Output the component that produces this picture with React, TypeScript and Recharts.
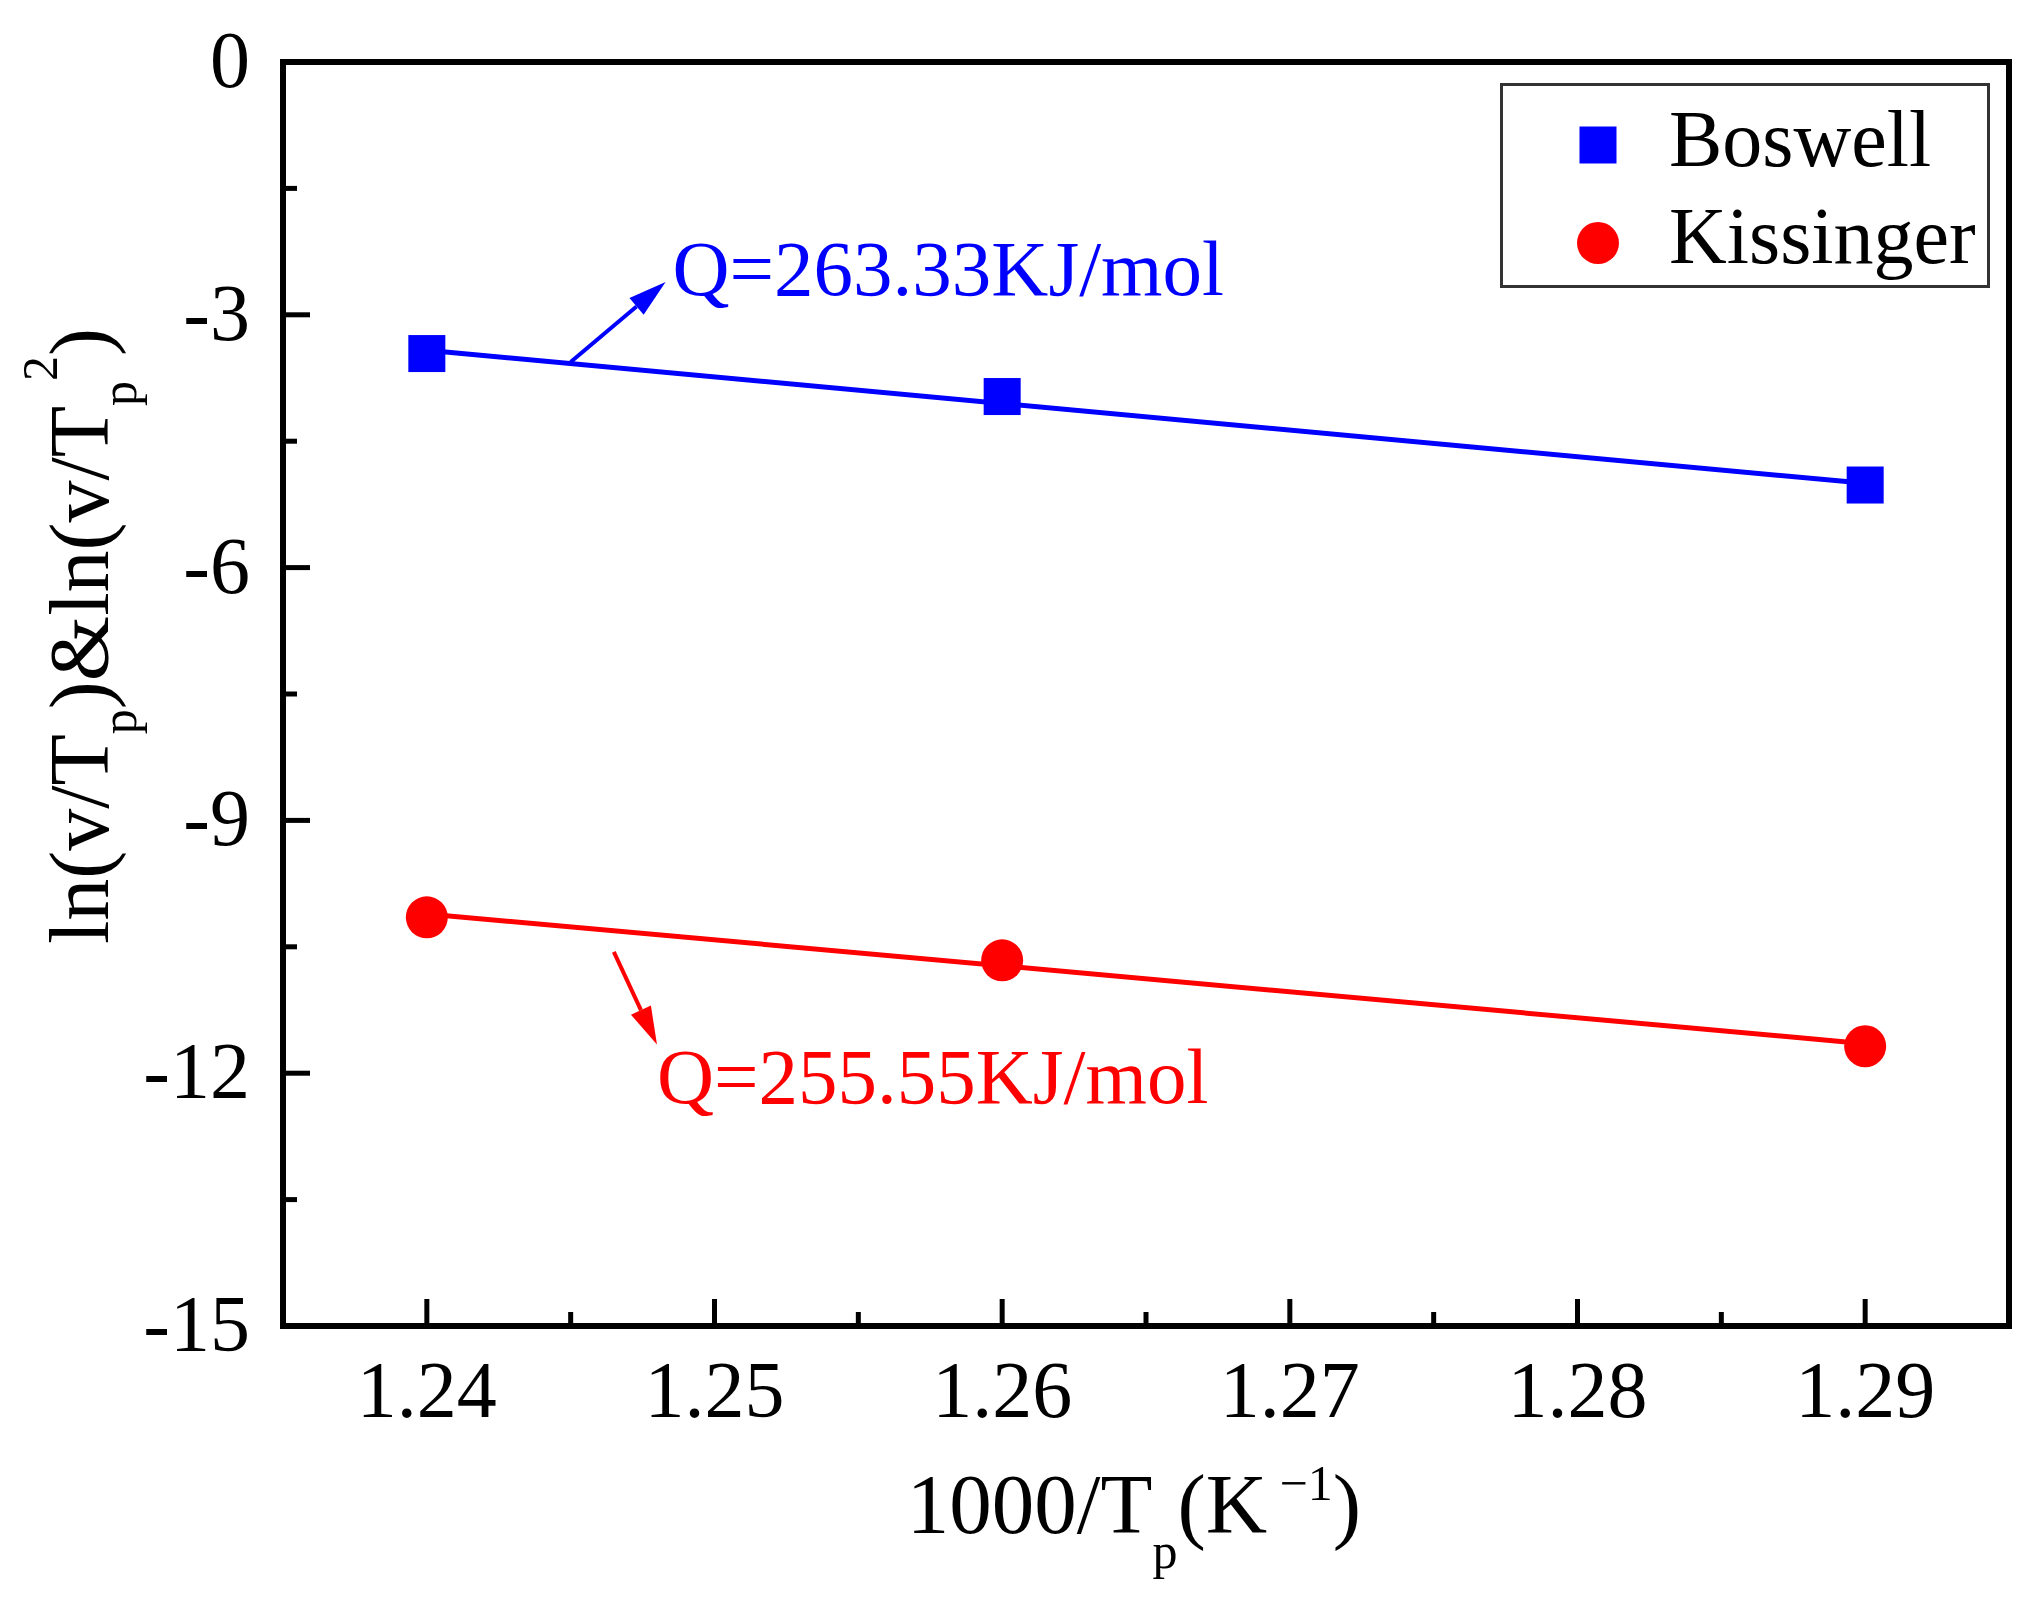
import React from "react";
import {
  ComposedChart,
  Scatter,
  XAxis,
  YAxis,
  ReferenceLine,
  ReferenceDot,
  Legend,
} from "recharts";

// ── data ───────────────────────────────────────────────
const X_TICKS = [1.24, 1.245, 1.25, 1.255, 1.26, 1.265, 1.27, 1.275, 1.28, 1.285, 1.29];
const Y_TICKS = [0, -1.5, -3, -4.5, -6, -7.5, -9, -10.5, -12, -13.5, -15];

const SERIES_NAMES = ["Boswell", "Kissinger"];

const BOSWELL_X = [1.24, 1.26, 1.29];
const BOSWELL_Y = [-3.46, -3.97, -5.02];
const KISSINGER_X = [1.24, 1.26, 1.29];
const KISSINGER_Y = [-10.15, -10.66, -11.68];

// linear fit end points
const BOSWELL_FIT_X = [1.24, 1.29];
const BOSWELL_FIT_Y = [-3.42, -5.0];
const KISSINGER_FIT_X = [1.24, 1.29];
const KISSINGER_FIT_Y = [-10.11, -11.65];

const ANNOTATION_TEXTS = ["Q=263.33KJ/mol", "Q=255.55KJ/mol"];

// ── styles / layout ────────────────────────────────────
const SERIF = '"Liberation Serif", "Times New Roman", serif';
const BLUE = "#0000ff";
const RED = "#ff0000";
const W = 2041;
const H = 1601;

const toPoints = (xs: number[], ys: number[]) => xs.map((x, i) => ({ x, y: ys[i] }));

const boswell = toPoints(BOSWELL_X, BOSWELL_Y);
const kissinger = toPoints(KISSINGER_X, KISSINGER_Y);
const boswellFit = toPoints(BOSWELL_FIT_X, BOSWELL_FIT_Y);
const kissingerFit = toPoints(KISSINGER_FIT_X, KISSINGER_FIT_Y);

// arrows and labels, in data units
const ANNOTATIONS = [
  { text: ANNOTATION_TEXTS[0], color: BLUE, from: { x: 1.245, y: -3.56 }, to: { x: 1.2483, y: -2.61 }, at: { x: 1.24854, y: -2.765 } },
  { text: ANNOTATION_TEXTS[1], color: RED, from: { x: 1.2465, y: -10.56 }, to: { x: 1.248, y: -11.66 }, at: { x: 1.248, y: -12.35 } },
];

// ── ticks (pointing inwards) ───────────────────────────
function XTick(props: any) {
  const { x, y, payload } = props;
  const v = payload.value as number;
  const major = Math.abs(v * 100 - Math.round(v * 100)) < 1e-6;
  return (
    <g>
      <line x1={x} x2={x} y1={y} y2={y - (major ? 27 : 14)} stroke="#000" strokeWidth={5} />
      {major && (
        <text x={x} y={y + 91} textAnchor="middle" fontFamily={SERIF} fontSize={80} fill="#000">
          {v.toFixed(2)}
        </text>
      )}
    </g>
  );
}

function YTick(props: any) {
  const { x, y, payload } = props;
  const v = payload.value as number;
  const major = Math.abs(v % 3) < 1e-6;
  return (
    <g>
      <line x1={x} x2={x + (major ? 27 : 14)} y1={y} y2={y} stroke="#000" strokeWidth={5} />
      {major && (
        <text x={x - 33} y={y + 25} textAnchor="end" fontFamily={SERIF} fontSize={80} fill="#000">
          {String(v)}
        </text>
      )}
    </g>
  );
}

// ── axis titles ────────────────────────────────────────
function XTitle(props: any) {
  const vb = props.viewBox ?? { x: 283, y: 1326, width: 1726, height: 200 };
  const cx = vb.x + vb.width / 2 - 12;
  const cy = vb.y + 207;
  return (
    <text x={cx} y={cy} textAnchor="middle" fontFamily={SERIF} fontSize={85} fill="#000">
      1000/T
      <tspan dy={35} fontSize={50}>p</tspan>
      <tspan dy={-35}>(K</tspan>
      <tspan dy={-33} fontSize={50}>{" \u22121"}</tspan>
      <tspan dy={33}>)</tspan>
    </text>
  );
}

function YTitle(props: any) {
  const vb = props.viewBox ?? { x: 83, y: 62, width: 200, height: 1264 };
  const cx = vb.x + 25;
  const cy = vb.y + vb.height / 2 - 58;
  return (
    <text
      x={cx}
      y={cy}
      transform={`rotate(-90 ${cx} ${cy})`}
      textAnchor="middle"
      fontFamily={SERIF}
      fontSize={84}
      fill="#000"
    >
      ln(v/T
      <tspan dy={28} fontSize={50}>p</tspan>
      <tspan dy={-28}>{")&ln(v/T"}</tspan>
      <tspan dy={28} fontSize={50}>p</tspan>
      <tspan dy={-79} fontSize={50}>2</tspan>
      <tspan dy={51}>)</tspan>
    </text>
  );
}

// ── markers ────────────────────────────────────────────
const SquareMarker = (p: any) => (
  <rect x={p.cx - 18.5} y={p.cy - 18.5} width={37} height={37} fill={BLUE} />
);
const CircleMarker = (p: any) => <circle cx={p.cx} cy={p.cy} r={21} fill={RED} />;
const NoMarker = () => <g />;

// ── arrow annotation ───────────────────────────────────
function Arrow(props: any) {
  const { x1, y1, x2, y2, color } = props;
  const dx = x2 - x1;
  const dy = y2 - y1;
  const len = Math.hypot(dx, dy) || 1;
  const ux = dx / len;
  const uy = dy / len;
  const head = 38;
  const half = 11;
  const bx = x2 - ux * head;
  const by = y2 - uy * head;
  const pts = `${x2},${y2} ${bx - uy * half},${by + ux * half} ${bx + uy * half},${by - ux * half}`;
  return (
    <g>
      <line x1={x1} y1={y1} x2={bx} y2={by} stroke={color} strokeWidth={4} />
      <polygon points={pts} fill={color} />
    </g>
  );
}

// ── legend ─────────────────────────────────────────────
function LegendBox() {
  return (
    <svg width={490} height={205} style={{ display: "block" }}>
      <rect x={1.5} y={1.5} width={487} height={202} fill="#fff" stroke="#333" strokeWidth={3} />
      <rect x={98 - 18.5} y={62 - 18.5} width={37} height={37} fill={BLUE} />
      <circle cx={98} cy={160} r={21} fill={RED} />
      <text x={169} y={83} fontFamily={SERIF} fontSize={80} fill="#000">
        {SERIES_NAMES[0]}
      </text>
      <text x={169} y={180} fontFamily={SERIF} fontSize={80} fill="#000">
        {SERIES_NAMES[1]}
      </text>
    </svg>
  );
}

export default function App() {
  const frame = { stroke: "#000", strokeWidth: 6, strokeLinecap: "square" as const };
  return (
    <div style={{ position: "absolute", left: 0, top: 0, width: W, height: H, background: "#fff" }}>
      <ComposedChart width={W} height={H} margin={{ top: 62, right: 32, bottom: 75, left: 83 }}>
        <XAxis
          type="number"
          dataKey="x"
          domain={[1.235, 1.295]}
          ticks={X_TICKS}
          interval={0}
          allowDataOverflow
          height={200}
          tickSize={0}
          tickMargin={0}
          tickLine={false}
          axisLine={frame}
          tick={(p: any) => <XTick {...p} />}
          label={{ content: (p: any) => <XTitle {...p} /> }}
        />
        <YAxis
          type="number"
          dataKey="y"
          domain={[-15, 0]}
          ticks={Y_TICKS}
          interval={0}
          allowDataOverflow
          width={200}
          tickSize={0}
          tickMargin={0}
          tickLine={false}
          axisLine={frame}
          tick={(p: any) => <YTick {...p} />}
          label={{ content: (p: any) => <YTitle {...p} /> }}
        />

        {/* top and right edges of the frame */}
        <ReferenceLine y={0} {...frame} />
        <ReferenceLine x={1.295} {...frame} />

        {/* fit lines */}
        <Scatter
          data={boswellFit}
          line={{ stroke: BLUE, strokeWidth: 5 }}
          shape={NoMarker}
          legendType="none"
          isAnimationActive={false}
        />
        <Scatter
          data={kissingerFit}
          line={{ stroke: RED, strokeWidth: 5 }}
          shape={NoMarker}
          legendType="none"
          isAnimationActive={false}
        />

        {/* measured points */}
        <Scatter name={SERIES_NAMES[0]} data={boswell} shape={SquareMarker} isAnimationActive={false} />
        <Scatter name={SERIES_NAMES[1]} data={kissinger} shape={CircleMarker} isAnimationActive={false} />

        {/* Q annotations */}
        {ANNOTATIONS.map((a, i) => (
          <ReferenceLine
            key={`arrow-${i}`}
            segment={[a.from, a.to]}
            shape={(p: any) => <Arrow {...p} color={a.color} />}
          />
        ))}
        {ANNOTATIONS.map((a, i) => (
          <ReferenceDot
            key={`text-${i}`}
            x={a.at.x}
            y={a.at.y}
            r={0}
            shape={(p: any) => (
              <text x={p.cx} y={p.cy} fontFamily={SERIF} fontSize={79} fill={a.color}>
                {a.text}
              </text>
            )}
          />
        ))}

        <Legend
          layout="horizontal"
          align="center"
          verticalAlign="middle"
          wrapperStyle={{ left: 1500, top: 83, width: 490, height: 205 }}
          content={() => <LegendBox />}
        />
      </ComposedChart>
    </div>
  );
}
